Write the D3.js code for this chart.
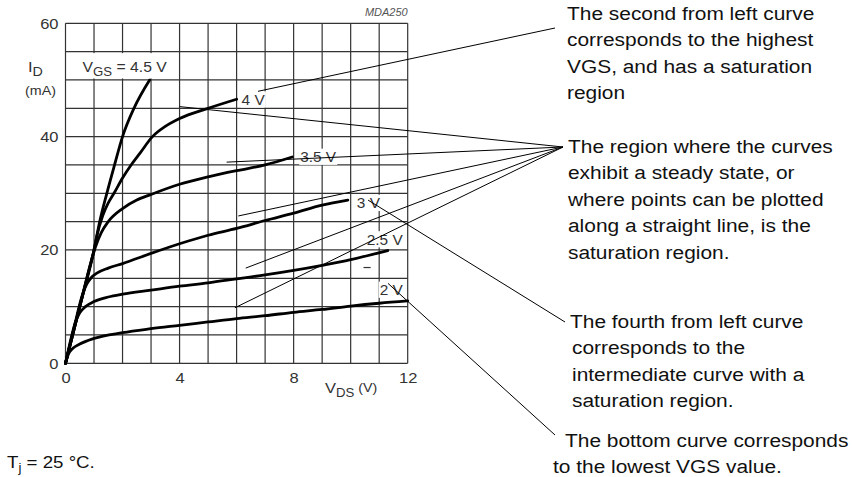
<!DOCTYPE html>
<html>
<head>
<meta charset="utf-8">
<script src="https://cdn.jsdelivr.net/npm/d3@7/dist/d3.min.js"></script>
<style>
  body { margin: 0; background: #fff; }
  svg { display: block; font-family: "Liberation Sans", Arial, sans-serif; }
</style>
</head>
<body>
<svg width="852" height="477"></svg>
<script>
// ID (mA) against VDS (V), one array per VGS curve
var curve2V   = [[0,0],[0.1,1.6],[0.25,2.6],[0.5,3.4],[1,4.4],[2,5.4],[3,6.1],[4,6.7],[5,7.3],[6,7.9],[7,8.4],[8,9],[9,9.5],[10,10.1],[11,10.6],[12,11]];
var curve2V5  = [[0,0],[0.2,4.5],[0.35,7.3],[0.5,8.9],[0.7,10],[1,10.9],[1.5,11.7],[2,12.2],[3,12.9],[4,13.6],[5,14.2],[6,14.9],[7,15.6],[8,16.4],[9,17.3],[10,18.3],[11.3,19.9]];
var curve3V   = [[0,0],[0.3,6.3],[0.6,12.2],[0.75,14],[0.9,15.1],[1.1,15.9],[1.5,16.8],[2,17.6],[3,19.4],[4,21.1],[5,22.6],[6,23.8],[7,25.2],[8,26.5],[9,27.9],[9.9,28.8]];
var curve3V5  = [[0,0],[0.5,10],[0.9,18],[1.05,20.5],[1.25,23],[1.5,25],[2,27.3],[2.5,28.8],[3,29.8],[4,31.6],[5,32.9],[6,34],[7,35],[7.95,36.4]];
var curve4V   = [[0,0],[0.5,10],[1,20],[1.1,22.5],[1.3,26],[1.5,28.3],[1.7,30],[2,32.7],[2.3,35],[2.6,37],[3.05,40],[3.5,41.8],[4,43.2],[5,45],[6,46.6]];
var curve4V5  = [[0,0],[0.25,5],[0.5,10],[0.75,15],[1,20],[1.2,25],[1.45,30],[1.72,35],[2,40],[2.4,45],[2.95,50]];

var curveLabels = ["2 V", "2.5 V", "3 V", "3.5 V", "4 V", "4.5 V"];

var xTicks = [0, 4, 8, 12];
var yTicks = [0, 20, 40, 60];

// points (V, mA) where the callout lines start inside the plot
var calloutTop    = [[6.75, 48]];
var calloutSat    = [[4.0, 45.3], [5.65, 35.5], [6.06, 26.0], [6.32, 16.8], [5.94, 9.8]];
var calloutFourth = [[10.61, 28.8]];
var calloutBottom = [[11.31, 14.1]];

var textTop    = ["The second from left curve", "corresponds to the highest", "VGS, and has a saturation", "region"];
var textSat    = ["The region where the curves", "exhibit a steady state, or", "where points can be plotted", "along a straight line, is the", "saturation region."];
var textFourth = ["The fourth from left curve", "corresponds to the", "intermediate curve with a", "saturation region."];
var textBottom = ["The bottom curve corresponds", "to the lowest VGS value."];

var svg = d3.select("svg");
var SX = 1.1; // the scan is a bit stretched sideways

var x = d3.scaleLinear().domain([0, 12]).range([65.5, 407.7]);
var y = d3.scaleLinear().domain([0, 60]).range([363.3, 23.3]);

// grid: 1 V by 5 mA
var grid = svg.append("g");
grid.selectAll(".vx").data(d3.range(0, 13)).enter().append("line")
  .attr("x1", d => x(d)).attr("x2", d => x(d))
  .attr("y1", y(0)).attr("y2", y(60))
  .attr("stroke", "#333").attr("stroke-width", 1.2);
grid.selectAll(".hy").data(d3.range(0, 61, 5)).enter().append("line")
  .attr("x1", x(0)).attr("x2", x(12))
  .attr("y1", d => y(d)).attr("y2", d => y(d))
  .attr("stroke", "#333").attr("stroke-width", 1.2);

// axes (labels only, the grid does the ticks)
var yAxis = svg.append("g").attr("transform", "translate(" + x(0) + ",0)")
  .call(d3.axisLeft(y).tickValues(yTicks).tickSize(0).tickPadding(7));
var xAxis = svg.append("g").attr("transform", "translate(0," + y(0) + ")")
  .call(d3.axisBottom(x).tickValues(xTicks).tickSize(0).tickPadding(9.5));
[yAxis, xAxis].forEach(function (a) {
  a.select(".domain").remove();
  a.selectAll("text").attr("font-size", 15).attr("fill", "#333")
    .attr("font-family", "Liberation Sans, Arial, sans-serif")
    .attr("transform", "scale(" + SX + ",1)");
});
yAxis.selectAll("text").attr("x", -7 / SX);

// curves
var line = d3.line().x(d => x(d[0])).y(d => y(d[1])).curve(d3.curveMonotoneX);
var curves = [curve2V, curve2V5, curve3V, curve3V5, curve4V, curve4V5];
svg.append("g").selectAll("path").data(curves).enter().append("path")
  .attr("d", line)
  .attr("fill", "none").attr("stroke", "#000").attr("stroke-width", 2.8)
  .attr("stroke-linejoin", "round").attr("stroke-linecap", "round");

function addText(parent, px, py, size, anchor) {
  return parent.append("text")
    .attr("transform", "translate(" + px + "," + py + ") scale(" + SX + ",1)")
    .attr("font-size", size).attr("text-anchor", anchor || "start");
}

function sub(t, main, low, size) {
  t.append("tspan").text(main);
  t.append("tspan").attr("font-size", size).attr("dy", 4).text(low);
  return t;
}

// curve labels, placed next to the end of each curve, on white
var labelOffsets = [[-28, -6], [-21, -6], [9, 8], [8, 5], [5, 5.5]];
var labels = svg.append("g");
curves.slice(0, 5).forEach(function (c, i) {
  var end = c[c.length - 1];
  var t = addText(labels, x(end[0]) + labelOffsets[i][0], y(end[1]) + labelOffsets[i][1], 14)
    .attr("fill", "#333").text(curveLabels[i]);
  var b = t.node().getBBox();
  labels.insert("rect", "text")
    .attr("x", x(end[0]) + labelOffsets[i][0] - 1)
    .attr("y", y(end[1]) + labelOffsets[i][1] + b.y - 1)
    .attr("width", b.width * SX + 2).attr("height", b.height + 1)
    .attr("fill", "#fff");
});
// VGS = 4.5 V label
var top45 = curve4V5[curve4V5.length - 1];
labels.append("rect")
  .attr("x", x(top45[0]) - 70).attr("y", y(55) + 1.5)
  .attr("width", 88).attr("height", y(50) - y(55) - 3)
  .attr("fill", "#fff");
var vgsLab = addText(labels, x(top45[0]) - 67, y(top45[1]) - 8, 14.3).attr("fill", "#333");
vgsLab.append("tspan").text("V");
vgsLab.append("tspan").attr("font-size", 12).attr("dy", 4).text("GS");
vgsLab.append("tspan").attr("dy", -4).text(" = " + curveLabels[5]);

// small dash under the 2.5 V label
labels.append("line")
  .attr("x1", x(10.45)).attr("x2", x(10.7))
  .attr("y1", y(16.9)).attr("y2", y(16.9))
  .attr("stroke", "#333").attr("stroke-width", 1.2);

// axis titles
var idLab = addText(svg, 28, 72, 15).attr("fill", "#333");
sub(idLab, "I", "D", 13);
addText(svg, 25, 95, 13).attr("fill", "#333").text("(mA)");
var vdsLab = addText(svg, 325, 393, 15).attr("fill", "#333");
vdsLab.append("tspan").text("V");
vdsLab.append("tspan").attr("font-size", 12).attr("dy", 4).text("DS");
vdsLab.append("tspan").attr("font-size", 13).attr("dy", -5).text(" (V)");
addText(svg, x(12), 16, 10, "end").attr("fill", "#555")
  .attr("font-style", "italic").text("MDA250");

// Tj note
var tj = addText(svg, 7, 468, 17).attr("fill", "#111");
tj.append("tspan").text("T");
tj.append("tspan").attr("font-size", 12).attr("dy", 4).text("j");
tj.append("tspan").attr("dy", -4).text(" = 25 \u00B0C.");

// callout text blocks and lines
var blocks = [
  { lines: textTop,    x: [567],      y: 20,  end: [555, 28],  from: calloutTop },
  { lines: textSat,    x: [568],      y: 153, end: [563, 147], from: calloutSat },
  { lines: textFourth, x: [570, 572], y: 328, end: [565, 322], from: calloutFourth },
  { lines: textBottom, x: [565, 553], y: 447, end: [555, 435], from: calloutBottom }
];
var notes = svg.append("g");
blocks.forEach(function (b) {
  b.lines.forEach(function (s, i) {
    var lx = i === 0 ? b.x[0] : b.x[b.x.length - 1];
    addText(notes, lx, b.y + i * 26.4, 19).attr("fill", "#111").text(s);
  });
  notes.selectAll(null).data(b.from).enter().append("line")
    .attr("x1", d => x(d[0])).attr("y1", d => y(d[1]))
    .attr("x2", b.end[0]).attr("y2", b.end[1])
    .attr("stroke", "#000").attr("stroke-width", 1);
});
</script>
</body>
</html>
